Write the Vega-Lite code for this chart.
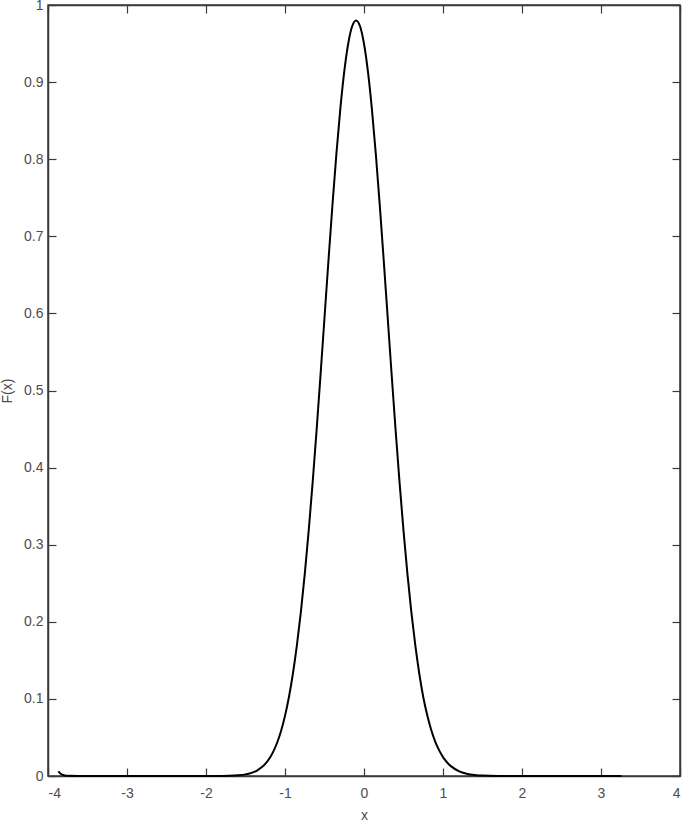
{
  "$schema": "https://vega.github.io/schema/vega-lite/v6.json",
  "description": "Bell-shaped curve F(x) in MATLAB figure style.",
  "width": 632,
  "height": 771,
  "autosize": {"type": "none"},
  "padding": {"left": 48, "top": 5, "right": 5, "bottom": 45},
  "background": "white",
  "data": {
    "values": [
      {"x": -3.87, "F": 0.006},
      {"x": -3.84, "F": 0.003},
      {"x": -3.8, "F": 0.001},
      {"x": -3.74, "F": 0.0002},
      {"x": -3.6, "F": 0},
      {"x": -3.0, "F": 0},
      {"x": -2.5, "F": 0},
      {"x": -2.0, "F": 0},
      {"x": -1.8, "F": 0.0001},
      {"x": -1.7, "F": 0.0003},
      {"x": -1.6, "F": 0.0009},
      {"x": -1.5, "F": 0.0021},
      {"x": -1.45, "F": 0.0033},
      {"x": -1.4, "F": 0.005},
      {"x": -1.35, "F": 0.0074},
      {"x": -1.3, "F": 0.0109},
      {"x": -1.25, "F": 0.0157},
      {"x": -1.2, "F": 0.0223},
      {"x": -1.15, "F": 0.0313},
      {"x": -1.1, "F": 0.0431},
      {"x": -1.05, "F": 0.0584},
      {"x": -1.0, "F": 0.078},
      {"x": -0.95, "F": 0.1025},
      {"x": -0.9, "F": 0.1326},
      {"x": -0.85, "F": 0.169},
      {"x": -0.8, "F": 0.212},
      {"x": -0.75, "F": 0.2618},
      {"x": -0.7, "F": 0.3182},
      {"x": -0.65, "F": 0.3809},
      {"x": -0.6, "F": 0.4487},
      {"x": -0.55, "F": 0.5205},
      {"x": -0.5, "F": 0.5944},
      {"x": -0.45, "F": 0.6683},
      {"x": -0.4, "F": 0.7397},
      {"x": -0.35, "F": 0.8062},
      {"x": -0.3, "F": 0.8649},
      {"x": -0.25, "F": 0.9135},
      {"x": -0.2, "F": 0.9498},
      {"x": -0.15, "F": 0.9724},
      {"x": -0.1, "F": 0.98},
      {"x": -0.05, "F": 0.9724},
      {"x": 0.0, "F": 0.9498},
      {"x": 0.05, "F": 0.9135},
      {"x": 0.1, "F": 0.8649},
      {"x": 0.15, "F": 0.8062},
      {"x": 0.2, "F": 0.7397},
      {"x": 0.25, "F": 0.6683},
      {"x": 0.3, "F": 0.5944},
      {"x": 0.35, "F": 0.5205},
      {"x": 0.4, "F": 0.4487},
      {"x": 0.45, "F": 0.3809},
      {"x": 0.5, "F": 0.3182},
      {"x": 0.55, "F": 0.2618},
      {"x": 0.6, "F": 0.212},
      {"x": 0.65, "F": 0.169},
      {"x": 0.7, "F": 0.1326},
      {"x": 0.75, "F": 0.1025},
      {"x": 0.8, "F": 0.079},
      {"x": 0.85, "F": 0.06},
      {"x": 0.9, "F": 0.045},
      {"x": 0.95, "F": 0.0335},
      {"x": 1.0, "F": 0.0245},
      {"x": 1.05, "F": 0.0178},
      {"x": 1.1, "F": 0.0128},
      {"x": 1.2, "F": 0.0064},
      {"x": 1.3, "F": 0.003},
      {"x": 1.4, "F": 0.0013},
      {"x": 1.5, "F": 0.0005},
      {"x": 1.7, "F": 0.0001},
      {"x": 2.0, "F": 0},
      {"x": 2.5, "F": 0},
      {"x": 3.0, "F": 0},
      {"x": 3.26, "F": 0}
    ]
  },
  "layer": [
    {
      "mark": {"type": "line", "color": "black", "strokeWidth": 2, "interpolate": "monotone"},
      "encoding": {
        "x": {
          "field": "x", "type": "quantitative",
          "scale": {"domain": [-4, 4], "nice": false, "zero": false},
          "axis": {"orient": "bottom", "values": [-4, -3, -2, -1, 0, 1, 2, 3, 4], "title": "x", "titlePadding": 8}
        },
        "y": {
          "field": "F", "type": "quantitative",
          "scale": {"domain": [0, 1], "nice": false},
          "axis": {"orient": "left", "values": [0, 0.1, 0.2, 0.3, 0.4, 0.5, 0.6, 0.7, 0.8, 0.9, 1], "title": "F(x)", "titlePadding": 9}
        }
      }
    },
    {
      "mark": {"type": "line", "opacity": 0},
      "encoding": {
        "x": {
          "field": "x", "type": "quantitative",
          "axis": {"orient": "top", "values": [-4, -3, -2, -1, 0, 1, 2, 3, 4], "labels": false, "title": null}
        },
        "y": {
          "field": "F", "type": "quantitative",
          "axis": {"orient": "right", "values": [0, 0.1, 0.2, 0.3, 0.4, 0.5, 0.6, 0.7, 0.8, 0.9, 1], "labels": false, "title": null}
        }
      }
    }
  ],
  "resolve": {"axis": {"x": "independent", "y": "independent"}},
  "config": {
    "view": {"stroke": "#3a3a3a", "strokeWidth": 1.5},
    "axis": {
      "grid": false,
      "domainColor": "#3a3a3a",
      "domainWidth": 1.5,
      "tickColor": "#3a3a3a",
      "tickWidth": 1.2,
      "tickSize": -8,
      "labelExpr": "toString(datum.value)",
      "labelFont": "Liberation Sans",
      "labelFontSize": 14,
      "labelColor": "#4d4d4d",
      "titleFont": "Liberation Sans",
      "titleFontSize": 14,
      "titleFontWeight": "normal",
      "titleColor": "#4d4d4d"
    },
    "axisX": {"labelPadding": 18},
    "axisY": {"labelPadding": 13}
  }
}
